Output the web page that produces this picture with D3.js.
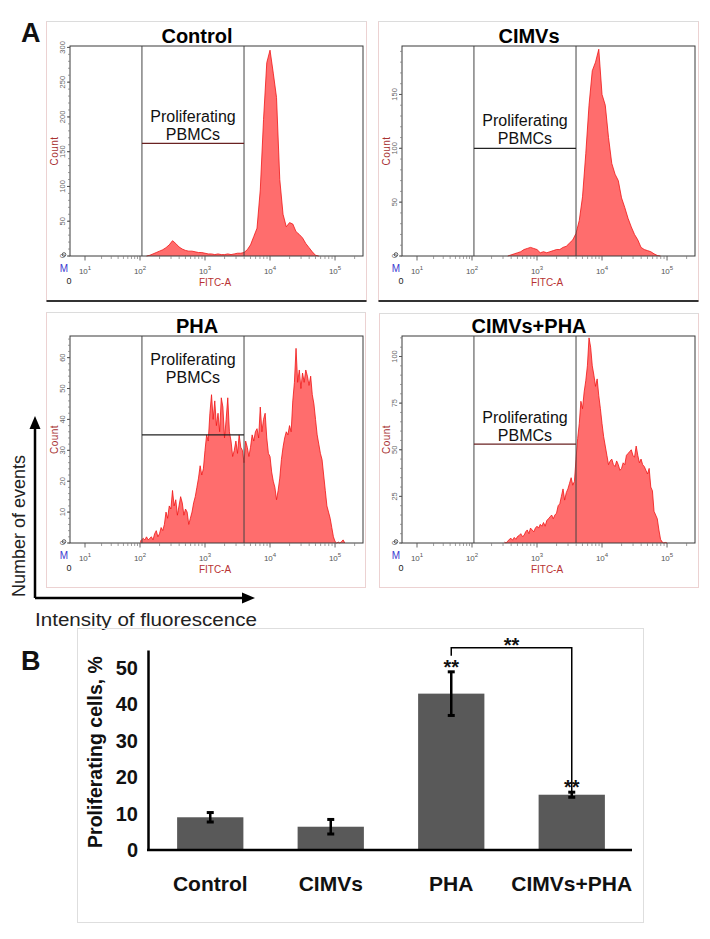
<!DOCTYPE html>
<html><head><meta charset="utf-8">
<script src="https://cdn.jsdelivr.net/npm/d3@7"></script>
<style>body{margin:0;background:#fff} svg{display:block}</style>
</head><body>
<svg id="c" width="710" height="939"></svg>
<script>
// ---------------- DATA ----------------
const panelTitles = ["Control", "CIMVs", "PHA", "CIMVs+PHA"];
const gateLabel = ["Proliferating", "PBMCs"];
const gateRange = [2.03, 3.6];            // log10(FITC-A) gate limits
const gateLevel = [162, 100, 35, 53];     // count level of gate bar
const countMax = [302, 195, 67, 111];
const countTicks = [[0,50,100,150,200,250,300],[0,50,100,150],[0,10,20,30,40,50,60],[0,25,50,75,100]];
const countMinorStep = [10, 10, 2, 5];
const fitcDecades = [1, 2, 3, 4, 5];
const histStart = [2.10, 2.55, 2.00, 2.50];   // log10 FITC-A of first bin
const histStep = [0.05, 0.05, 0.025, 0.025];

const controlCounts = [0,1,3,5,7,9,12,16,22,18,13,10,8,7,7,6,5,5,4,3,3,2,3,2,2,3,2,3,4,4,5,9,16,28,40,95,196,278,296,263,228,110,60,42,48,46,35,31,26,18,12,6,1,0];
const cimvsCounts = [0,1,2,3,4,6,7,8,7,6,3,4,3,4,5,6,6,8,9,12,15,21,33,55,95,140,172,180,192,150,140,110,86,76,70,54,45,35,27,20,15,8,6,5,4,2,0.5,0];
const phaCounts = [0.5,1,1.5,1,2,1,1.5,2,1,3,4,2,3,5,4,6,10,8,12,11,17,12,14,9,12,15,13,9,11,10,6,8,10,13,15,18,21,25,22,24,
  30,35,33,42,48,40,46,38,42,36,47,44,34,40,47,36,33,28,30,33,29,35,31,30,26,33,31,28,31,35,33,36,37,34,44,36,40,42,34,29,
  28,23,20,18,14,17,21,27,31,34,36,35,38,36,46,52,63,52,56,50,55,52,56,54,51,54,48,45,40,35,32,29,27,22,17,12,10,8,5,2,
  0.5,0,0.3,0,0.5,1,0];
const cimvsPhaCounts = [0.5,0,1,2,2.5,1.5,3,2,3.5,4, 5,3.5,4,6,7,5,8,7,6,8, 9,8,10,9,11,9,12,13,14,15, 13,15,16,20,21,25,29,23,27,29,
  32,35,31,33,45,56,64,76,72,81, 87,95,110,105,95,90,84,88,79,72, 64,57,52,47,42,44,45,42,41,44, 42,39,40,43,42,47,48,49,50,47,
  46,52,47,43,45,42,41,39,37,40, 30,28,17,15,13,7,2,0.5,0,0.3, 0];

const barCategories = ["Control", "CIMVs", "PHA", "CIMVs+PHA"];
const barMeans = [9.0, 6.4, 43.0, 15.2];
const barErrors = [1.3, 2.0, 6.0, 0.7];
const barTicks = [0, 10, 20, 30, 40, 50];
const sigMark = "**";
const bracketLevels = [53.4, 55.6, 16.1];   // left end, top, right end (value units)
const sigLevels = [51.4, 18.3, 57.6];       // PHA, CIMVs+PHA, bracket

// ---------------- DRAW ----------------
const FONT = "Arial, 'Liberation Sans', Helvetica, sans-serif";
const svg = d3.select("#c").style("font-family", FONT);
const hists = [controlCounts, cimvsCounts, phaCounts, cimvsPhaCounts];

const plots = [
  {x:70, y:46, w:293, h:210},
  {x:402, y:46, w:293, h:210},
  {x:70, y:336, w:293, h:207},
  {x:402, y:336, w:293, h:207}];
const frames = [
  {x:46.5, y:21.5, w:320, h:279.5, dark:true},
  {x:378.5, y:21.5, w:320, h:279.5, dark:true},
  {x:46.5, y:312.5, w:319, h:275},
  {x:379.5, y:313.5, w:319, h:274}];
const textY = [76, 80, 29, 87];

svg.append("text").attr("x", 21).attr("y", 42).text("A")
  .attr("font-size", 27).attr("font-weight", "bold").attr("fill", "#111");

plots.forEach((p, i) => {
  const fr = frames[i];
  svg.append("rect").attr("x", fr.x).attr("y", fr.y).attr("width", fr.w).attr("height", fr.h)
    .attr("fill", "none").attr("stroke", "#ecd2d2").attr("stroke-width", 1);
  svg.append("line").attr("x1", fr.x).attr("x2", fr.x + fr.w).attr("y1", fr.y).attr("y2", fr.y)
    .attr("stroke", "#dcdcdc");
  if (fr.dark) svg.append("line").attr("x1", fr.x).attr("x2", fr.x + fr.w)
    .attr("y1", fr.y + fr.h).attr("y2", fr.y + fr.h).attr("stroke", "#333").attr("stroke-width", 2);

  const g = svg.append("g").attr("transform", `translate(${p.x},${p.y})`);
  const x = d3.scaleLinear().domain([0.727, 2, 5.43]).range([0, 70, p.w]);
  const y = d3.scaleLinear().domain([0, countMax[i]]).range([p.h, 0]);

  const pts = hists[i].map((c, k) => ({lv: histStart[i] + k * histStep[i], c}));
  g.append("path").datum(pts)
    .attr("d", d3.area().x(d => x(d.lv)).y0(p.h).y1(d => y(d.c)))
    .attr("fill", "#ff6d6d");
  g.append("path").datum(pts)
    .attr("d", d3.line().x(d => x(d.lv)).y(d => y(d.c)))
    .attr("fill", "none").attr("stroke", "#f01515").attr("stroke-width", 0.8);

  g.append("rect").attr("width", p.w).attr("height", p.h).attr("fill", "none")
    .attr("stroke", "#3a3a3a").attr("stroke-width", 1);

  // gate
  const gx0 = x(gateRange[0]), gx1 = x(gateRange[1]);
  [gx0, gx1].forEach(gx => g.append("line").attr("x1", gx).attr("x2", gx).attr("y1", 0).attr("y2", p.h)
    .attr("stroke", "#444").attr("stroke-width", 1));
  g.append("line").attr("x1", gx0).attr("x2", gx1).attr("y1", y(gateLevel[i])).attr("y2", y(gateLevel[i]))
    .attr("stroke", i % 3 === 0 ? "#6a2222" : "#222").attr("stroke-width", 1.2);
  gateLabel.forEach((t, k) => g.append("text").attr("x", (gx0 + gx1) / 2).attr("y", textY[i] + k * 18)
    .attr("text-anchor", "middle").attr("font-size", 16).attr("fill", "#111").text(t));

  // title
  g.append("text").attr("x", 127).attr("y", -3).attr("text-anchor", "middle")
    .attr("font-size", 20).attr("font-weight", "bold").attr("fill", "#000").text(panelTitles[i]);

  // y ticks
  d3.range(0, countMax[i] + 0.001, countMinorStep[i]).forEach(v => g.append("line")
    .attr("x1", 0).attr("x2", -2).attr("y1", y(v)).attr("y2", y(v)).attr("stroke", "#777").attr("stroke-width", 0.7));
  countTicks[i].forEach(v => {
    g.append("line").attr("x1", 0).attr("x2", -3).attr("y1", y(v)).attr("y2", y(v)).attr("stroke", "#555");
    g.append("text").attr("transform", `translate(-5,${y(v)}) rotate(-90)`).attr("text-anchor", "middle")
      .attr("font-size", 7.5).attr("fill", "#666").text(v);
  });
  g.append("text").attr("transform", `translate(-12,${p.h / 2}) rotate(-90)`).attr("text-anchor", "middle")
    .attr("font-size", 10).attr("fill", "#a83232").attr("letter-spacing", 0.5).text("Count");

  // x ticks (log)
  fitcDecades.forEach(dk => {
    for (let m = 2; m <= 9; m++) {
      const lv = dk + Math.log10(m);
      if (lv < 5.43) g.append("line").attr("x1", x(lv)).attr("x2", x(lv)).attr("y1", p.h).attr("y2", p.h + 3)
        .attr("stroke", "#777").attr("stroke-width", 0.7);
    }
    g.append("line").attr("x1", x(dk)).attr("x2", x(dk)).attr("y1", p.h).attr("y2", p.h + 4.5)
      .attr("stroke", "#555").attr("stroke-width", 0.9);
    const t = g.append("text").attr("x", x(dk)).attr("y", p.h + 18).attr("text-anchor", "middle")
      .attr("font-size", 8).attr("fill", "#555").text("10");
    t.append("tspan").attr("dy", -4).attr("font-size", 6).text(dk);
  });
  g.append("text").attr("x", x(3) + 10).attr("y", p.h + 30).attr("text-anchor", "middle")
    .attr("font-size", 10).attr("fill", "#b83232").text("FITC-A");
  g.append("text").attr("x", -6).attr("y", p.h + 16).attr("text-anchor", "middle")
    .attr("font-size", 10).attr("fill", "#3a3ad0").text("M");
  g.append("text").attr("x", -1).attr("y", p.h + 28).attr("text-anchor", "middle")
    .attr("font-size", 9).attr("fill", "#222").text("0");
  g.append("circle").attr("cx", -6).attr("cy", p.h - 1.5).attr("r", 1.8).attr("fill", "none")
    .attr("stroke", "#333").attr("stroke-width", 0.8);
});

// axes arrows of panel A
const arrowG = svg.append("g");
arrowG.append("path").attr("d", "M35,598 V426 M35,598 H244").attr("stroke", "#000").attr("stroke-width", 2.5).attr("fill", "none");
arrowG.append("path").attr("d", "M35,416 L29.5,429 L40.5,429 Z").attr("fill", "#000");
arrowG.append("path").attr("d", "M255,598 L242,592.5 L242,603.5 Z").attr("fill", "#000");
svg.append("text").attr("transform", "translate(25,526) rotate(-90)").attr("text-anchor", "middle")
  .attr("font-size", 18).attr("fill", "#222").text("Number of events");
svg.append("text").attr("x", 35).attr("y", 626).attr("font-size", 18).attr("fill", "#222")
  .attr("textLength", 222).attr("lengthAdjust", "spacingAndGlyphs")
  .text("Intensity of fluorescence");

// ---------------- PANEL B ----------------
svg.append("text").attr("x", 21).attr("y", 670).text("B")
  .attr("font-size", 27).attr("font-weight", "bold").attr("fill", "#111");
svg.append("rect").attr("x", 77.5).attr("y", 628.5).attr("width", 566).attr("height", 294)
  .attr("fill", "none").attr("stroke", "#dedede");

const bx = d3.scaleBand().domain(barCategories).range([150, 632]).paddingInner(0.45).paddingOuter(0.225);
const by = d3.scaleLinear().domain([0, 55]).range([850, 650]);
const bw = bx.bandwidth();

svg.selectAll(".bar").data(barCategories).enter().append("rect")
  .attr("x", d => bx(d)).attr("y", (d, i) => by(barMeans[i]))
  .attr("width", bw).attr("height", (d, i) => by(0) - by(barMeans[i]))
  .attr("fill", "#595959");

barCategories.forEach((c, i) => {
  const cx = bx(c) + bw / 2;
  const lo = by(barMeans[i] - barErrors[i]), hi = by(barMeans[i] + barErrors[i]);
  svg.append("line").attr("x1", cx).attr("x2", cx).attr("y1", lo).attr("y2", hi).attr("stroke", "#000").attr("stroke-width", 2.5);
  [lo, hi].forEach(yy => svg.append("line").attr("x1", cx - 3.5).attr("x2", cx + 3.5).attr("y1", yy).attr("y2", yy)
    .attr("stroke", "#000").attr("stroke-width", 3));
});

const yAx = svg.append("g").attr("transform", "translate(148,0)")
  .call(d3.axisLeft(by).tickValues(barTicks).tickSize(0).tickPadding(10));
yAx.select(".domain").attr("stroke", "#000").attr("stroke-width", 2.5);
yAx.selectAll("text").attr("font-size", 20).attr("font-weight", "bold").attr("fill", "#111")
  .attr("font-family", FONT);
svg.append("line").attr("x1", 147).attr("x2", 632).attr("y1", by(0)).attr("y2", by(0))
  .attr("stroke", "#000").attr("stroke-width", 2.5);

barCategories.forEach(c => svg.append("text").attr("x", bx(c) + bw / 2).attr("y", 891)
  .attr("text-anchor", "middle").attr("font-size", 21).attr("font-weight", "bold").attr("fill", "#111").text(c));

svg.append("text").attr("transform", "translate(102,752) rotate(-90)").attr("text-anchor", "middle")
  .attr("font-size", 19.5).attr("font-weight", "bold").attr("fill", "#111").text("Proliferating cells, %");

// significance
const xP = bx("PHA") + bw / 2, xC = bx("CIMVs+PHA") + bw / 2;
svg.append("path").attr("d", `M${xP},${by(bracketLevels[0])} V${by(bracketLevels[1])} H${xC} V${by(bracketLevels[2])}`)
  .attr("fill", "none").attr("stroke", "#000").attr("stroke-width", 1.5);
[[xP, sigLevels[0]], [xC, sigLevels[1]], [(xP + xC) / 2, sigLevels[2]]].forEach(([sx, sv]) =>
  svg.append("text").attr("x", sx).attr("y", by(sv) + 11).attr("text-anchor", "middle")
    .attr("font-size", 20).attr("font-weight", "bold").attr("fill", "#111").text(sigMark));
</script>
</body></html>
